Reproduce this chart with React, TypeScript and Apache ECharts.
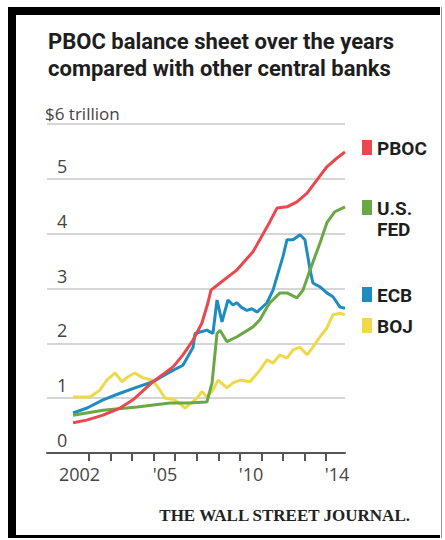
import React, { useEffect, useRef } from "react";
import * as echarts from "echarts";

const title = ["PBOC balance sheet over the years", "compared with other central banks"];
const seriesNames = ["PBOC", "U.S.\nFED", "ECB", "BOJ"];
const seriesColors = ["#e8484e", "#6aa845", "#1f8cc0", "#efd94a"];

const pboc: [number, number][] = [
  [2002.0, 0.55], [2002.63, 0.6], [2003.39, 0.69], [2004.18, 0.82], [2004.78, 0.97],
  [2005.71, 1.3], [2006.64, 1.57], [2007.1, 1.79], [2007.57, 2.06], [2007.98, 2.37],
  [2008.26, 2.74], [2008.4, 2.97], [2008.82, 3.1], [2009.61, 3.34], [2010.35, 3.67],
  [2011.0, 4.12], [2011.47, 4.47], [2011.93, 4.49], [2012.39, 4.58], [2012.86, 4.74],
  [2013.32, 4.98], [2013.78, 5.22], [2014.25, 5.38], [2014.62, 5.49],
];
const fed: [number, number][] = [
  [2002.0, 0.69], [2003.39, 0.78], [2004.97, 0.84], [2006.5, 0.91], [2007.29, 0.91],
  [2008.21, 0.93], [2008.45, 1.28], [2008.68, 2.18], [2008.82, 2.24], [2009.14, 2.03],
  [2009.61, 2.12], [2010.35, 2.3], [2010.67, 2.43], [2011.0, 2.66], [2011.14, 2.74],
  [2011.6, 2.92], [2011.93, 2.92], [2012.39, 2.83], [2012.67, 2.97], [2013.0, 3.34],
  [2013.46, 3.83], [2013.78, 4.2], [2014.15, 4.4], [2014.62, 4.49],
];
const ecb: [number, number][] = [
  [2002.0, 0.73], [2002.65, 0.82], [2003.39, 0.97], [2004.18, 1.09], [2004.97, 1.2],
  [2005.71, 1.3], [2006.5, 1.48], [2007.1, 1.6], [2007.57, 1.93], [2007.66, 2.18],
  [2008.21, 2.24], [2008.49, 2.18], [2008.68, 2.79], [2008.91, 2.39], [2009.19, 2.79],
  [2009.42, 2.7], [2009.6, 2.74], [2009.8, 2.66], [2010.07, 2.6], [2010.3, 2.63],
  [2010.54, 2.57], [2011.0, 2.74], [2011.28, 2.97], [2011.74, 3.58], [2011.93, 3.89],
  [2012.21, 3.89], [2012.53, 3.98], [2012.76, 3.89], [2013.0, 3.34], [2013.13, 3.1],
  [2013.46, 3.03], [2013.78, 2.92], [2014.06, 2.85], [2014.39, 2.66], [2014.62, 2.64],
];
const boj: [number, number][] = [
  [2002.0, 1.02], [2002.79, 1.02], [2003.25, 1.15], [2003.57, 1.33], [2003.95, 1.46],
  [2004.27, 1.3], [2004.55, 1.39], [2004.87, 1.46], [2005.24, 1.37], [2005.66, 1.33],
  [2005.94, 1.2], [2006.27, 1.0], [2006.64, 0.98], [2006.9, 0.92], [2007.2, 0.82],
  [2007.45, 0.9], [2007.75, 1.0], [2007.98, 1.12], [2008.21, 1.02], [2008.49, 1.15],
  [2008.73, 1.33], [2009.14, 1.19], [2009.42, 1.28], [2009.75, 1.33], [2010.21, 1.3],
  [2010.67, 1.51], [2011.0, 1.7], [2011.28, 1.64], [2011.6, 1.79], [2011.93, 1.73],
  [2012.21, 1.88], [2012.53, 1.93], [2012.86, 1.79], [2013.13, 1.93], [2013.46, 2.12],
  [2013.78, 2.28], [2014.06, 2.52], [2014.39, 2.55], [2014.62, 2.52],
];

const xTickValues = [2002.74, 2003.74, 2004.74, 2005.74, 2006.74, 2007.74, 2008.74, 2009.74, 2010.74, 2011.74, 2012.74, 2013.74];
const xLabelValues = [2002.3, 2006.27, 2010.26, 2014.25];
const xLabelTexts = ["2002", "'05", "'10", "'14"];
const yLabelTop = "$6 trillion";
const footer = "THE WALL STREET JOURNAL.";

const SANS = "'Open Sans', 'Noto Sans', sans-serif";
const BOLD = "Roboto, 'Noto Sans', sans-serif";

export default function App() {
  const ref = useRef<HTMLDivElement>(null);
  useEffect(() => {
    if (!ref.current) return;
    const chart = echarts.init(ref.current, undefined, { renderer: "svg" });
    const data = [pboc, fed, ecb, boj];
    const legendTops = [140, 200, 287, 318];
    const graphic: any[] = [
      { type: "rect", shape: { x: 8, y: 7, width: 432, height: 8 }, style: { fill: "#000" } },
      { type: "rect", shape: { x: 8, y: 7, width: 8, height: 531 }, style: { fill: "#000" } },
      { type: "rect", shape: { x: 8, y: 535, width: 432, height: 3 }, style: { fill: "#000" } },
      { type: "rect", shape: { x: 441, y: 7, width: 1, height: 531 }, style: { fill: "#999" } },
      { type: "text", x: 48, y: 30, style: { text: title[0], font: `bold 22px ${BOLD}`, fill: "#1e1e1e" } },
      { type: "text", x: 48, y: 57, style: { text: title[1], font: `bold 22px ${BOLD}`, fill: "#1e1e1e" } },
      { type: "text", x: 410, y: 507, style: { text: footer, font: `bold 17px 'Liberation Serif', 'DejaVu Serif', serif`, fill: "#222", align: "right" } },
    ];
    seriesNames.forEach((n, i) => {
      graphic.push({ type: "rect", shape: { x: 362, y: legendTops[i], width: 10, height: 15 }, style: { fill: seriesColors[i] } });
      graphic.push({ type: "text", x: 377, y: legendTops[i] - 2, style: { text: n, font: `bold 19px ${BOLD}`, fill: "#1e1e1e", lineHeight: 21 } });
    });
    chart.setOption({
      animation: false,
      backgroundColor: "#fff",
      grid: { left: 47, right: 100, top: 124, bottom: 87 },
      xAxis: {
        type: "value",
        min: 2000.79,
        max: 2014.62,
        splitLine: { show: false },
        axisLine: { show: true, lineStyle: { color: "#555", width: 2 } },
        axisTick: { show: true, customValues: xTickValues, length: 8, lineStyle: { color: "#555", width: 2 } },
        axisLabel: {
          customValues: xLabelValues,
          formatter: (v: number) => {
            const i = xLabelValues.findIndex((x) => Math.abs(x - v) < 0.01);
            return i >= 0 ? xLabelTexts[i] : "";
          },
          margin: 12,
          fontSize: 18,
          color: "#444",
          fontFamily: SANS,
        },
      },
      yAxis: {
        type: "value",
        min: 0,
        max: 6,
        interval: 1,
        axisLine: { show: false },
        axisTick: { show: false },
        splitLine: { lineStyle: { color: "#c8c8c8", width: 1.5 } },
        axisLabel: {
          inside: true,
          margin: -2,
          verticalAlign: "bottom",
          formatter: (v: number) => (v === 6 ? `{t|${yLabelTop}}` : `{n|${v}}`),
          rich: {
            t: { fontSize: 17, color: "#444", fontFamily: SANS, padding: [0, 0, 2, 0] },
            n: { fontSize: 18, color: "#444", fontFamily: SANS, padding: [0, 0, 4, 12] },
          },
        },
      },
      series: data.map((d, i) => ({
        name: seriesNames[i],
        type: "line",
        data: d,
        showSymbol: false,
        lineStyle: { color: seriesColors[i], width: 3 },
        z: 4 - i,
      })),
      graphic,
    });
    return () => chart.dispose();
  }, []);
  return <div ref={ref} style={{ position: "fixed", left: 0, top: 0, width: 445, height: 540 }} />;
}
